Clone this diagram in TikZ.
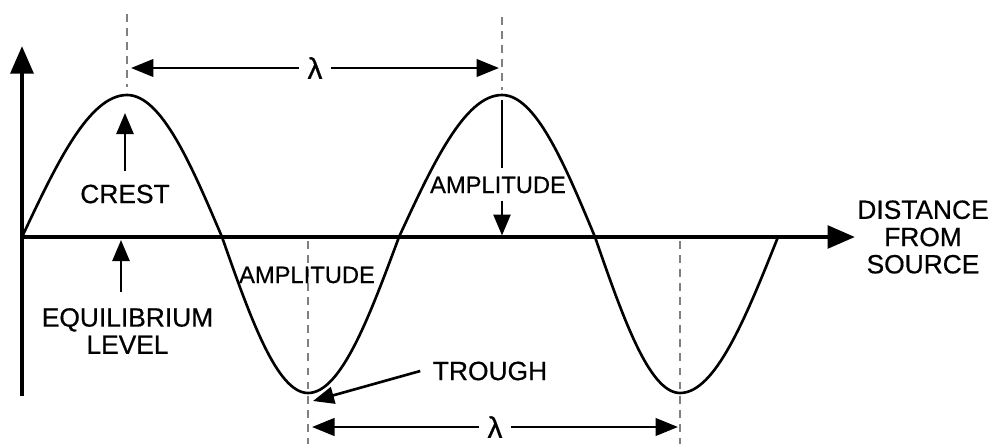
\documentclass[tikz,border=0pt]{standalone}
\usepackage{fontspec}
\setmainfont{Liberation Sans}
\newfontfamily\lblfont{Liberation Sans}[FakeBold=0.6]
\usetikzlibrary{arrows.meta}

\begin{document}
\begin{tikzpicture}[
    axisline/.style={line width=2.5pt, -{Triangle[length=0.55cm, width=0.45cm]}},
    wave/.style={line width=1.5pt},
    guide/.style={black!50, line width=1.2pt, dash pattern=on 4.5pt off 3.5pt},
    stem/.style={line width=1.5pt},
    ptr/.style={line width=1.5pt, -{Triangle[length=0.42cm, width=0.34cm]}},
    span/.style={line width=1.6pt, {Triangle[length=0.45cm, width=0.35cm]}-{Triangle[length=0.45cm, width=0.35cm]}},
    lbl/.style={font=\lblfont\fontsize{15}{15.5}\selectfont, align=center, inner sep=0pt},
    amp/.style={font=\lblfont\fontsize{13.5}{14}\selectfont, inner sep=0pt},
    lam/.style={font=\lblfont\fontsize{17}{17}\selectfont, fill=white, inner sep=5pt}
  ]
  \useasboundingbox (-0.44,-4.14) rectangle (19.5,4.74);

  % axes
  \coordinate (O) at (0,0);
  \coordinate (Ytop) at (0,3.82);
  \coordinate (Ybot) at (0,-3.18);
  \coordinate (Xend) at (16.66,0);

  % crests, troughs and zero crossings
  \coordinate (C1) at (2.1,2.84);
  \coordinate (Z1) at (4.0,0);
  \coordinate (T1) at (5.72,-3.12);
  \coordinate (Z2) at (7.54,0);
  \coordinate (C2) at (9.6,2.84);
  \coordinate (Z3) at (11.46,0);
  \coordinate (T2) at (13.16,-3.12);
  \coordinate (Z4) at (15.12,0);

  % guide lines
  \coordinate (G1a) at (2.1,4.46);
  \coordinate (G1b) at (2.1,3.0);
  \coordinate (G2a) at (9.6,4.4);
  \coordinate (G2b) at (9.6,2.94);
  \coordinate (G3a) at (5.72,-0.08);
  \coordinate (G3b) at (5.72,-4.14);
  \coordinate (G4a) at (13.16,-0.08);
  \coordinate (G4b) at (13.16,-4.14);

  \draw[guide] (G1a) -- (G1b);
  \draw[guide] (G2a) -- (G2b);
  \draw[guide] (G3a) -- (G3b);
  \draw[guide] (G4a) -- (G4b);

  \draw[axisline] (Ybot) -- (Ytop);
  \draw[axisline] (O) -- (Xend);

  \draw[wave] (O) sin (C1) cos (Z1) sin (T1) cos (Z2) sin (C2) cos (Z3) sin (T2) cos (Z4);

  % wavelengths
  \coordinate (L1a) at (2.18,3.38);
  \coordinate (L1b) at (9.54,3.38);
  \coordinate (L2a) at (5.8,-3.8);
  \coordinate (L2b) at (13.12,-3.8);
  \draw[span] (L1a) -- node[lam] (lam1) {λ} (L1b);
  \draw[span] (L2a) -- node[lam] (lam2) {λ} (L2b);

  % labels
  \node[lbl] (crest) at (2.06,0.86) {CREST};
  \node[lbl] (equil) at (2.11,-1.88) {EQUILIBRIUM\\LEVEL};
  \node[amp] (amp1) at (9.52,1.04) {AMPLITUDE};
  \node[amp] (amp2) at (5.7,-0.76) {AMPLITUDE};
  \node[lbl] (trough) at (9.36,-2.68) {TROUGH};
  \node[lbl] (dist) at (18.02,0) {DISTANCE\\FROM\\SOURCE};

  \coordinate (CrestTip) at (2.06,2.48);
  \coordinate (EqTip) at (1.98,-0.06);
  \coordinate (AmpTop) at (9.6,2.74);
  \coordinate (AmpBase) at (9.6,0.03);
  \coordinate (TroughTip) at (5.82,-3.28);

  \draw[ptr] ([yshift=7.5pt]crest.north) -- (CrestTip);
  \draw[ptr] ([yshift=9pt]equil.north -| EqTip) -- (EqTip);
  \draw[stem] (AmpTop) -- ([yshift=5pt]amp1.north -| AmpTop);
  \draw[ptr] ([yshift=-4pt]amp1.south -| AmpBase) -- (AmpBase);
  \draw[ptr] ([xshift=-7pt]trough.west) -- (TroughTip);
\end{tikzpicture}
\end{document}
